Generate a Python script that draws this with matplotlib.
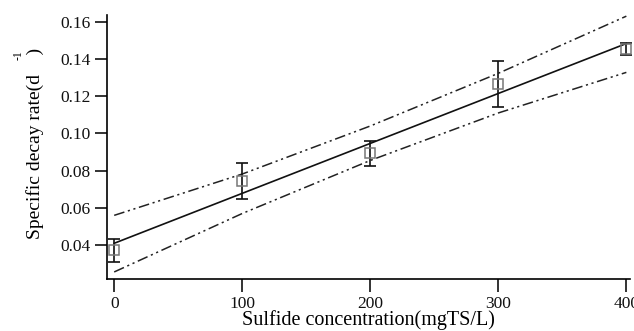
import matplotlib
matplotlib.use("Agg")
import matplotlib.pyplot as plt

plt.rcParams['font.family'] = ['Liberation Serif', 'DejaVu Serif']

# measured points
conc = [0, 100, 200, 300, 400]
rate = [0.0372, 0.0745, 0.0893, 0.1265, 0.1453]
rate_err = [0.0062, 0.0098, 0.0067, 0.0124, 0.0032]

# linear fit and confidence bands
fit_x = [0, 400]
fit_y = [0.0410, 0.1483]
band_x = [0, 100, 200, 300, 400]
band_upper = [0.0560, 0.0782, 0.1040, 0.1323, 0.1630]
band_lower = [0.0256, 0.0570, 0.0855, 0.1110, 0.1328]

fig = plt.figure(figsize=(6.34, 3.31), dpi=100)
ax = fig.add_axes([0.169, 0.157, 0.825, 0.797])

dd = (7, 2.4, 1.4, 2.4, 1.4, 2.4)
ax.plot(band_x, band_upper, color='#222222', lw=1.1, dashes=dd)
ax.plot(band_x, band_lower, color='#222222', lw=1.1, dashes=dd)
ax.plot(fit_x, fit_y, color='#111111', lw=1.2)

ax.errorbar(conc, rate, yerr=rate_err, fmt='none', ecolor='#111111',
            elinewidth=1.2, capsize=4.5, capthick=1.2, clip_on=False)
ax.plot(conc, rate, 's', ms=7.5, mfc='none', mec='#777777', mew=1.1,
        clip_on=False)

ax.set_xlim(-5.5, 403)
ax.set_ylim(0.0218, 0.1635)
ax.set_xticks([0, 100, 200, 300, 400])
ax.set_yticks([0.04, 0.06, 0.08, 0.10, 0.12, 0.14, 0.16])
ax.set_yticklabels(['0.04', '0.06', '0.08', '0.10', '0.12', '0.14', '0.16'])

for s in ['top', 'right']:
    ax.spines[s].set_visible(False)
for s in ['left', 'bottom']:
    ax.spines[s].set_linewidth(1.2)
ax.tick_params(direction='out', length=9, width=1.2, labelsize=12.5,
               colors='#111111', pad=3)

ax.set_xlabel('Sulfide concentration(mgTS/L)', fontsize=14.5, labelpad=-1)
ax.set_ylabel('Specific decay rate(d    )', fontsize=14)
ax.yaxis.set_label_coords(-0.121, 0.515)
fig.text(0.029, 0.832, '-1', fontsize=8.5, rotation=90, ha='center', va='center')

fig.savefig('out.png', dpi=100)
